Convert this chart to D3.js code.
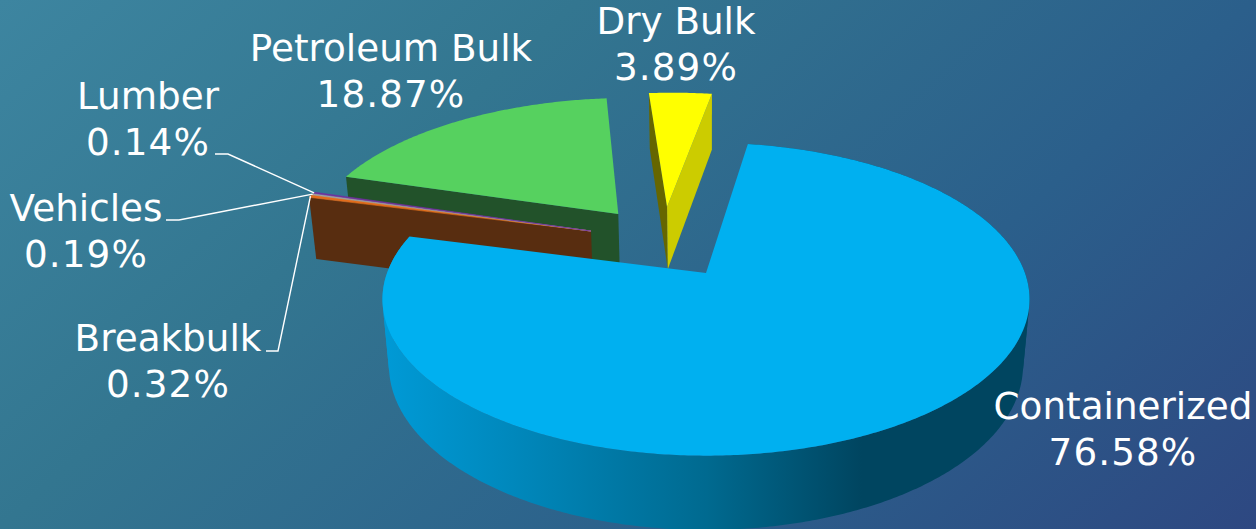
<!DOCTYPE html>
<html><head><meta charset="utf-8">
<style>html,body{margin:0;padding:0;background:#2f6a90}svg{display:block}text{font-family:"DejaVu Sans",sans-serif;fill:#fff;font-size:37.3px;text-anchor:middle}</style>
<script src="https://cdn.jsdelivr.net/npm/d3@7/dist/d3.min.js"></script>
</head><body><svg id="c" width="1256" height="529"></svg>
<script>
const categories = ["Containerized","Breakbulk","Vehicles","Lumber","Petroleum Bulk","Dry Bulk"];
const shares = [76.58,0.32,0.19,0.14,18.87,3.89];
const shareLabels = ["76.58%","0.32%","0.19%","0.14%","18.87%","3.89%"];
const topColors = ["#00b0f0","#e46c1a","#a3a3a3","#7030a0","#56d15f","#ffff00"];

// Layout / projection settings (not data)
const W=1256,H=529;
const cam={x0:706,y0:273,A:318,B:151.6,D:67,k:0.167,m:0.02};
const radius=[1.003,1.015,1.015,1.015,1.015,1.015];
const startDeg=8.8;
const explode=[[0,0],[-.379,-.29],[-.379,-.29],[-.379,-.29],[-.295,-.416],[-.132,-.469]];
const labelAt=[[1123,418.5],[168,351],[86,221],[148,109],[391,60.5],[676,34]];
const leaderKnots=[null,[[266,351],[278,351]],[[166,220],[179,220]],[[215,154],[228,154]],null,null];
const lineH=46;

function project(u,v,z){const w=1-cam.k*v+cam.m*z;return [cam.x0+cam.A*u/w,cam.y0+(cam.B*v+cam.D*z)/w];}
const svg=d3.select("#c");
const defs=svg.append("defs");
const bg=defs.append("linearGradient").attr("id","bg").attr("gradientUnits","userSpaceOnUse")
 .attr("x1",0).attr("y1",0).attr("x2",876).attr("y2",961);
[[0,"#3d85a0"],[0.3,"#337690"],[0.65,"#2b5f8b"],[1,"#2e4480"]].forEach(s=>bg.append("stop").attr("offset",s[0]).attr("stop-color",s[1]));
const wg=defs.append("linearGradient").attr("id","wall").attr("gradientUnits","userSpaceOnUse")
 .attr("x1",383).attr("y1",0).attr("x2",1030).attr("y2",0);
[[0,"#009ad6"],[0.2,"#0088bc"],[0.5,"#006a90"],[0.74,"#004560"],[1,"#004560"]].forEach(s=>wg.append("stop").attr("offset",s[0]).attr("stop-color",s[1]));
svg.append("rect").attr("width",W).attr("height",H).attr("fill","url(#bg)");

const arcs=d3.pie().sort(null).value(d=>d).startAngle(startDeg*Math.PI/180).endAngle(startDeg*Math.PI/180+2*Math.PI)(shares);
const line=d3.line();
function rim(i,a0,a1,z){
  const off=explode[i],R=radius[i];
  const n=Math.max(2,Math.ceil((a1-a0)/0.01));
  return d3.range(n+1).map(j=>{const a=a0+(a1-a0)*j/n;
    return project(off[0]+R*Math.sin(a),off[1]-R*Math.cos(a),z);});
}
function apex(i,z){return project(explode[i][0],explode[i][1],z);}
function topFace(i){const a=arcs[i];return line([apex(i,0),...rim(i,a.startAngle,a.endAngle,0)])+"Z";}
function edgeWall(i,ang){const e=rim(i,ang,ang,0)[0],e2=rim(i,ang,ang,1)[0];
  return line([apex(i,0),e,e2,apex(i,1)])+"Z";}
// outer wall split into runs that face the same way, so the silhouette is filled
function outerWalls(i){const a=arcs[i],T=rim(i,a.startAngle,a.endAngle,0),B=rim(i,a.startAngle,a.endAngle,1);
  const side=j=>Math.sign(d3.polygonArea([T[j],T[j+1],B[j+1],B[j]]));
  const runs=[];let s=0;
  for(let j=1;j<T.length-1;j++){ if(side(j)!==side(j-1)){runs.push([s,j]);s=j;} }
  runs.push([s,T.length-1]);
  return runs.map(r=>line([...T.slice(r[0],r[1]+1),...B.slice(r[0],r[1]+1).reverse()])+"Z");
}
const g=svg.append("g");
function p(d,f){return g.append("path").attr("d",d).attr("fill",f);}
// petroleum
p(edgeWall(4,arcs[4].startAngle),"#22522a");
p(topFace(4),topColors[4]);
// thin slices
p(edgeWall(1,arcs[1].startAngle),"#582d10");
[1,2,3].forEach(i=>p(topFace(i),topColors[i]).attr("stroke",topColors[i]).attr("stroke-width",0.6));
// dry bulk
p(edgeWall(5,arcs[5].startAngle),"#666600");
p(edgeWall(5,arcs[5].endAngle),"#cccc00");
p(topFace(5),topColors[5]);
// containerized
outerWalls(0).forEach(d=>p(d,"url(#wall)"));
p(topFace(0),topColors[0]);

// leaders
[1,2,3].forEach(i=>{const a=arcs[i],m=(a.startAngle+a.endAngle)/2;
  const end=rim(i,m,m,0)[0];
  g.append("path").attr("d",line([...leaderKnots[i],end])).attr("fill","none").attr("stroke","#fff").attr("stroke-width",1.4);});
// labels
categories.forEach((c,i)=>{const t=svg.append("text").attr("x",labelAt[i][0]).attr("y",labelAt[i][1]);
  t.append("tspan").attr("x",labelAt[i][0]).text(c);
  t.append("tspan").attr("x",labelAt[i][0]).attr("dy",lineH).attr("letter-spacing",1.1).text(shareLabels[i]);});
</script></body></html>
